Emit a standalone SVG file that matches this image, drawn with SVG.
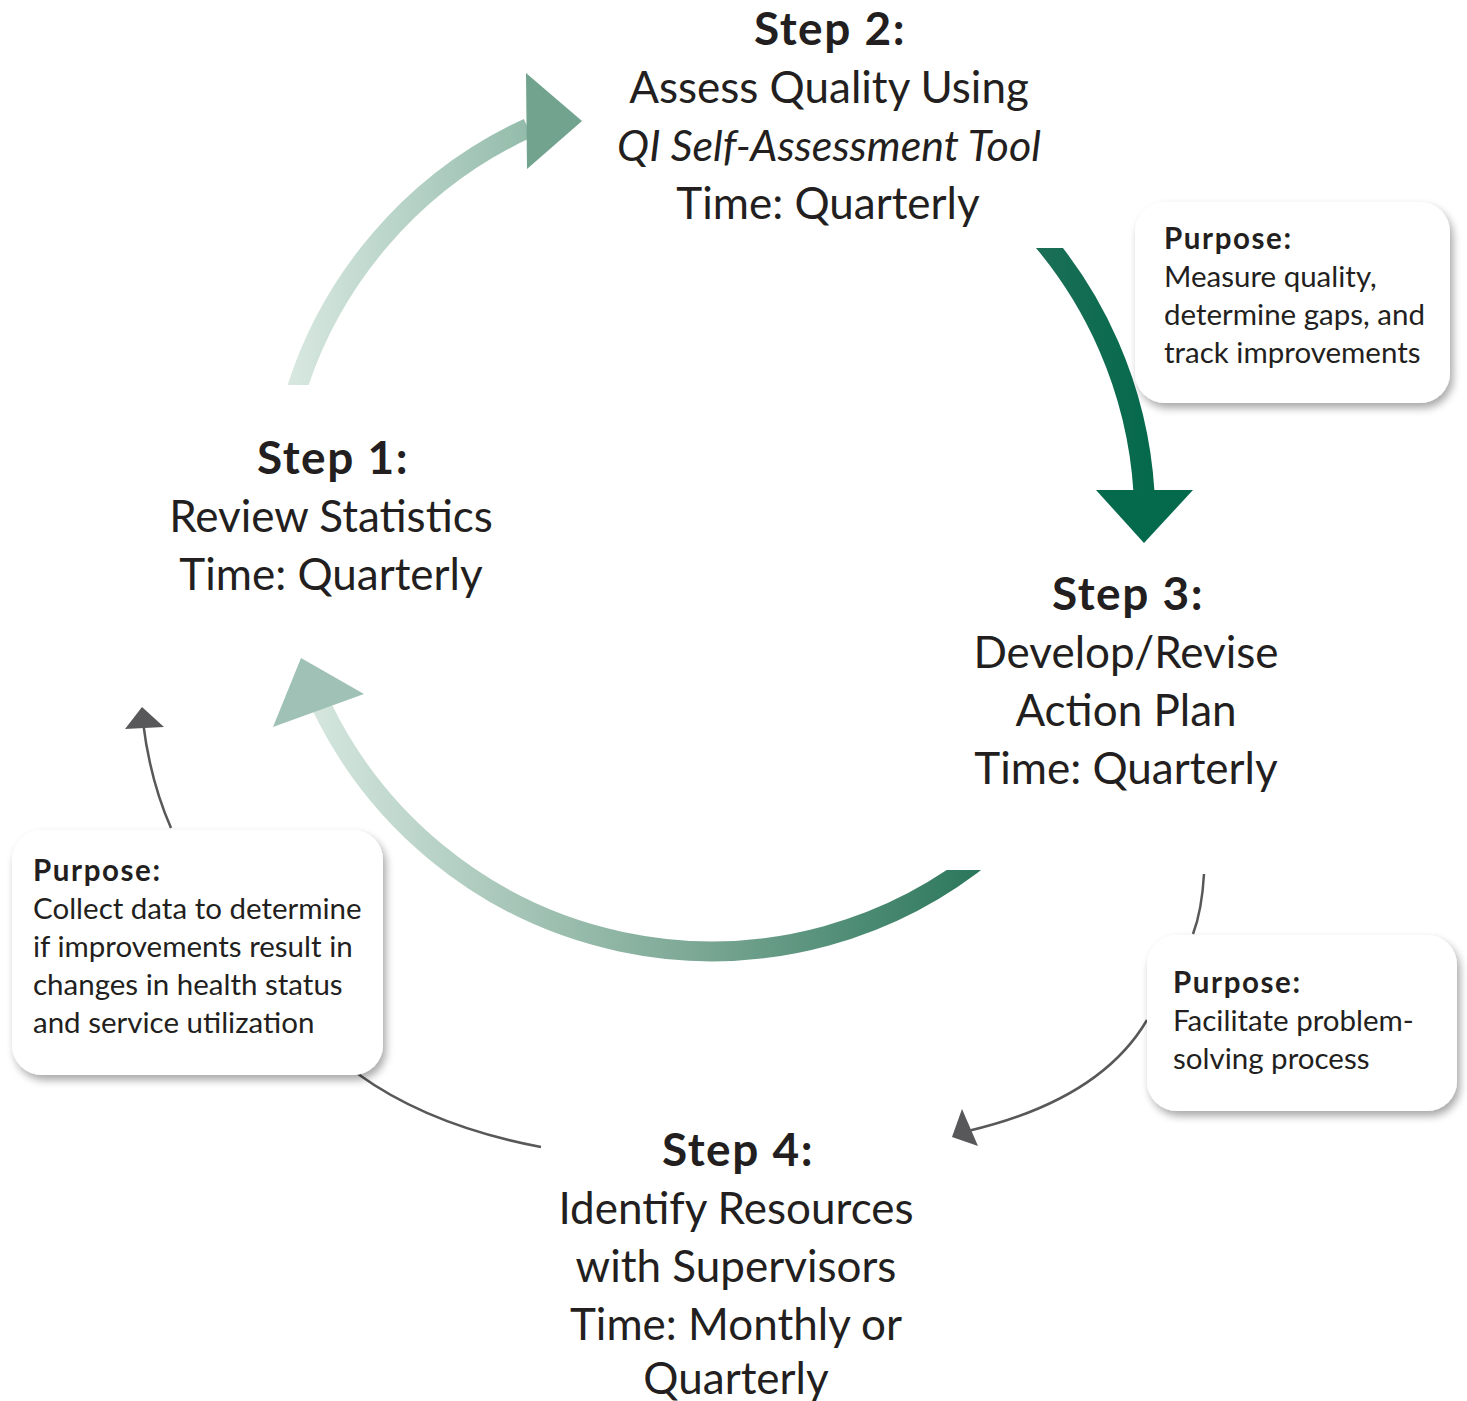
<svg xmlns="http://www.w3.org/2000/svg" width="1467" height="1401" viewBox="0 0 1467 1401">
<style>
.step{font-family:Lato,"Open Sans",sans-serif;font-size:44px;fill:#231f20;text-anchor:middle}
.b{font-weight:bold;font-size:46px;letter-spacing:1.5px}
.it{font-style:italic;font-size:43px}
.box{fill:#ffffff;filter:url(#sh)}
.pt{font-family:Lato,"Open Sans",sans-serif;font-size:29.5px;fill:#231f20}
.pb{font-weight:bold;letter-spacing:1.6px}
.thin{fill:none;stroke:#58585a;stroke-width:2.5}
.head{fill:#58585a}
</style>
<defs>
<filter id="sh" x="-10%" y="-10%" width="125%" height="130%">
<feGaussianBlur in="SourceAlpha" stdDeviation="4"/>
<feOffset dx="3" dy="5" result="o"/>
<feComponentTransfer><feFuncA type="linear" slope="0.35"/></feComponentTransfer>
<feMerge><feMergeNode/><feMergeNode in="SourceGraphic"/></feMerge>
</filter>
<linearGradient id="g1" gradientUnits="userSpaceOnUse" x1="290" y1="0" x2="530" y2="0">
<stop offset="0" stop-color="#d8e8e1"/><stop offset="1" stop-color="#93bbaa"/>
</linearGradient>
<linearGradient id="g2" gradientUnits="userSpaceOnUse" x1="1040" y1="0" x2="1150" y2="0">
<stop offset="0" stop-color="#1b6f56"/><stop offset="1" stop-color="#05694c"/>
</linearGradient>
<linearGradient id="g3" gradientUnits="userSpaceOnUse" x1="320" y1="0" x2="980" y2="0">
<stop offset="0" stop-color="#d3e5dd"/><stop offset="0.55" stop-color="#7faa97"/><stop offset="1" stop-color="#2b775c"/>
</linearGradient>
<clipPath id="c1"><rect x="0" y="0" width="1467" height="385"/></clipPath>
<clipPath id="c2"><rect x="0" y="248" width="1467" height="1153"/></clipPath>
<clipPath id="c3"><polygon points="0,0 880,0 880,870 1467,870 1467,1401 0,1401"/></clipPath>
</defs>

<g id="connectors">
<path d="M 292,405 A 433,433 0 0 1 528,128" fill="none" stroke="url(#g1)" stroke-width="20" clip-path="url(#c1)"/>
<polygon points="526,73 582,121 527,169" fill="#72a38f"/>
<path d="M 1025,220 A 433,433 0 0 1 1144,492" fill="none" stroke="url(#g2)" stroke-width="21" clip-path="url(#c2)"/>
<polygon points="1096,490 1193,490 1144,543" fill="#05694c"/>
<path d="M 990,850 A 433,433 0 0 1 322,707" fill="none" stroke="url(#g3)" stroke-width="20" clip-path="url(#c3)"/>
<polygon points="301,658 364,694 273,727" fill="#a0c2b6"/>
<path class="thin" d="M 171,828 Q 150,780 143,722"/>
<polygon class="head" points="142,707 164,727 125,729"/>
<path class="thin" d="M 358,1074 Q 430,1126 541,1147"/>
<path class="thin" d="M 1204,874 Q 1202,910 1193,934"/>
<path class="thin" d="M 1147,1020 Q 1100,1100 968,1131"/>
<polygon class="head" points="952,1137 962,1109 978,1146"/>
</g>

<g id="step2">
<text class="step b" x="830" y="45">Step 2:</text>
<text class="step" x="829" y="103">Assess Quality Using</text>
<text class="step it" x="829" y="161">QI Self-Assessment Tool</text>
<text class="step" x="828" y="219">Time: Quarterly</text>
</g>
<g id="step1">
<text class="step b" x="333" y="474">Step 1:</text>
<text class="step" x="331" y="532">Review Statistics</text>
<text class="step" x="331" y="590">Time: Quarterly</text>
</g>
<g id="step3">
<text class="step b" x="1128" y="610">Step 3:</text>
<text class="step" x="1126" y="668">Develop/Revise</text>
<text class="step" x="1126" y="726">Action Plan</text>
<text class="step" x="1126" y="784">Time: Quarterly</text>
</g>
<g id="step4">
<text class="step b" x="738" y="1166">Step 4:</text>
<text class="step" x="736" y="1224">Identify Resources</text>
<text class="step" x="736" y="1282">with Supervisors</text>
<text class="step" x="736" y="1340">Time: Monthly or</text>
<text class="step" x="736" y="1394">Quarterly</text>
</g>

<g id="purpose1">
<rect class="box" x="1135" y="202" width="315" height="201" rx="30"/>
<text class="pt" x="1164" y="249"><tspan class="pb">Purpose:</tspan><tspan x="1164" y="287">Measure quality,</tspan><tspan x="1164" y="325">determine gaps, and</tspan><tspan x="1164" y="363">track improvements</tspan></text>
</g>
<g id="purpose2">
<rect class="box" x="12" y="830" width="371" height="245" rx="30"/>
<text class="pt" x="33" y="881"><tspan class="pb">Purpose:</tspan><tspan x="33" y="919">Collect data to determine</tspan><tspan x="33" y="957">if improvements result in</tspan><tspan x="33" y="995">changes in health status</tspan><tspan x="33" y="1033">and service utilization</tspan></text>
</g>
<g id="purpose3">
<rect class="box" x="1147" y="935" width="310" height="176" rx="30"/>
<text class="pt" x="1173" y="993"><tspan class="pb">Purpose:</tspan><tspan x="1173" y="1031">Facilitate problem-</tspan><tspan x="1173" y="1069">solving process</tspan></text>
</g>
</svg>
